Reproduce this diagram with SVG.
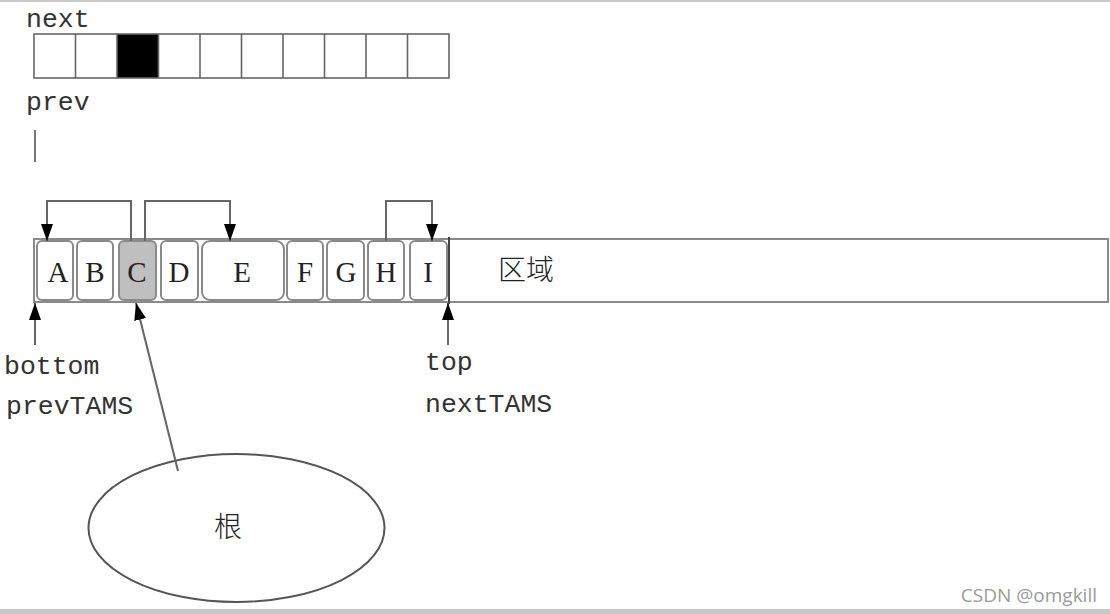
<svg xmlns="http://www.w3.org/2000/svg" width="1110" height="614" viewBox="0 0 1110 614">
<style>
.mono{font-family:"Liberation Mono","DejaVu Sans Mono",monospace;font-size:26.5px;fill:#333}
.ser{font-family:"Liberation Serif","DejaVu Serif",serif;font-size:29px;fill:#222;text-anchor:middle}
.cjk{font-family:"Noto Sans CJK SC","Noto Sans",sans-serif;font-size:28px;fill:#222;font-weight:300}
.cell{fill:#fff;stroke:#8a8a8a;stroke-width:2}
.conn{fill:none;stroke:#666;stroke-width:2}
.grid{fill:none;stroke:#666;stroke-width:1.6}
</style>
<defs>
<marker id="ah" viewBox="0 0 17 12" refX="17" refY="6" markerWidth="17" markerHeight="12" orient="auto" markerUnits="userSpaceOnUse">
<path d="M0,0 L17,6 L0,12 z" fill="#000"/>
</marker>
</defs>
<rect x="0" y="0" width="1110" height="614" fill="#fff"/>
<rect x="0" y="0" width="1110" height="2" fill="#c8c8c8"/>
<rect x="0" y="609" width="1110" height="5" fill="#c8c8c8"/>

<g id="next-bitmap">
<text class="mono" x="26" y="27">next</text>
<rect x="117" y="34" width="41.5" height="44" fill="#000"/>
<rect class="grid" x="34" y="34" width="415" height="44"/>
<path class="grid" d="M75.5,34V78M117,34V78M158.5,34V78M200,34V78M241.5,34V78M283,34V78M324.5,34V78M366,34V78M407.5,34V78"/>
</g>

<g id="prev-bitmap">
<text class="mono" x="26" y="110">prev</text>
<line x1="35" y1="130" x2="35" y2="162" stroke="#555" stroke-width="1.6"/>
</g>

<g id="region">
<rect x="34" y="239" width="1074" height="63" fill="#fff" stroke="#8a8a8a" stroke-width="2"/>
<line x1="449" y1="237" x2="449" y2="304" stroke="#444" stroke-width="2"/>
<text class="cjk" x="498" y="280">区域</text>
</g>

<g id="obj-A"><rect class="cell" x="37" y="241" width="36" height="59" rx="5"/><text class="ser" x="58" y="282">A</text></g>
<g id="obj-B"><rect class="cell" x="77" y="241" width="36" height="59" rx="5"/><text class="ser" x="95" y="282">B</text></g>
<g id="obj-C"><rect class="cell" x="119" y="241" width="37" height="59" rx="5" style="fill:#bfbfbf"/><text class="ser" x="137" y="282">C</text></g>
<g id="obj-D"><rect class="cell" x="161" y="241" width="37" height="59" rx="5"/><text class="ser" x="179" y="282">D</text></g>
<g id="obj-E"><rect class="cell" x="202" y="241" width="82" height="59" rx="8"/><text class="ser" x="242" y="282">E</text></g>
<g id="obj-F"><rect class="cell" x="287" y="241" width="36" height="59" rx="5"/><text class="ser" x="305" y="282">F</text></g>
<g id="obj-G"><rect class="cell" x="327" y="241" width="37" height="59" rx="5"/><text class="ser" x="346" y="282">G</text></g>
<g id="obj-H"><rect class="cell" x="368" y="241" width="36" height="59" rx="5"/><text class="ser" x="386" y="282">H</text></g>
<g id="obj-I"><rect class="cell" x="410" y="241" width="37" height="59" rx="5"/><text class="ser" x="428" y="282">I</text></g>

<g id="bottom-label">
<text class="mono" x="4" y="374">bottom</text>
<text class="mono" x="6" y="414">prevTAMS</text>
</g>
<g id="top-label">
<text class="mono" x="425" y="370">top</text>
<text class="mono" x="425" y="412">nextTAMS</text>
</g>

<g id="root">
<ellipse cx="236.5" cy="528" rx="148" ry="74" fill="#fff" stroke="#555" stroke-width="2"/>
<text class="cjk" x="228" y="537" text-anchor="middle">根</text>
</g>

<g id="connectors">
<path class="conn" d="M131,241V201H47V241" marker-end="url(#ah)"/>
<path class="conn" d="M145,241V201H230V241" marker-end="url(#ah)"/>
<path class="conn" d="M386,241V201H432V241" marker-end="url(#ah)"/>
<line class="conn" x1="35" y1="345" x2="35" y2="303" marker-end="url(#ah)"/>
<line class="conn" x1="448" y1="345" x2="448" y2="303" marker-end="url(#ah)"/>
<line class="conn" x1="178" y1="471" x2="136" y2="303" marker-end="url(#ah)"/>
</g>

<text x="1097" y="602" text-anchor="end" style="font-family:'Open Sans','Noto Sans',sans-serif;font-size:19px;fill:#9a9a9a">CSDN @omgkill</text>
</svg>
